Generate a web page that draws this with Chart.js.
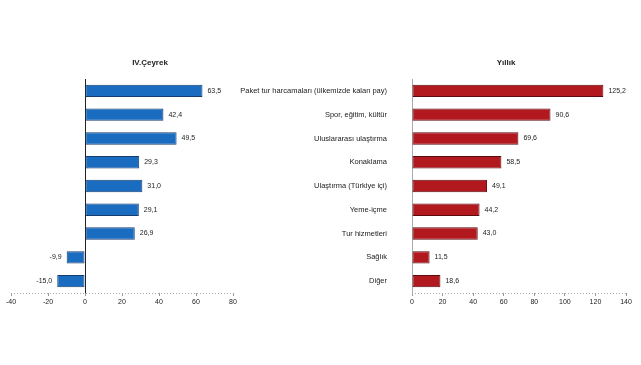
<!DOCTYPE html>
<html>
<head>
<meta charset="utf-8">
<script src="https://cdn.jsdelivr.net/npm/chart.js@4.4.1/dist/chart.umd.min.js"></script>
<style>
  html,body{margin:0;padding:0;background:#fff;width:641px;height:365px;overflow:hidden;font-family:"Liberation Sans",Arial,sans-serif}
  .box{position:absolute;top:0;height:365px}
  #leftBox{left:0;width:250px}
  #rightBox{left:240px;width:401px}
  .ttl{position:absolute;top:58px;font-size:8px;font-weight:bold;color:#222;transform:translateX(-50%);white-space:nowrap}
</style>
</head>
<body>
<div class="box" id="leftBox"><canvas id="cQ"></canvas></div>
<div class="box" id="rightBox"><canvas id="cY"></canvas></div>
<div class="ttl" style="left:150px">IV.Çeyrek</div>
<div class="ttl" style="left:506px">Yıllık</div>
<script>
const categories = [
  'Paket tur harcamaları (ülkemizde kalan pay)',
  'Spor, eğitim, kültür',
  'Uluslararası ulaştırma',
  'Konaklama',
  'Ulaştırma (Türkiye içi)',
  'Yeme-içme',
  'Tur hizmetleri',
  'Sağlık',
  'Diğer'
];
const quarterValues = [63.5, 42.4, 49.5, 29.3, 31.0, 29.1, 26.9, -9.9, -15.0];
const annualValues = [125.2, 90.6, 69.6, 58.5, 49.1, 44.2, 43.0, 11.5, 18.6];
const quarterRange = [-40, 80];
const annualRange = [0, 140];

const FONT = "'Liberation Sans', Arial, sans-serif";
const fmt = v => v.toFixed(1).replace('.', ',');

// value text at the end of each bar
const valueLabels = {
  id: 'valueLabels',
  afterDatasetsDraw(chart){
    const ctx = chart.ctx;
    const meta = chart.getDatasetMeta(0);
    const data = chart.data.datasets[0].data;
    ctx.save();
    ctx.font = '7px ' + FONT;
    ctx.fillStyle = '#222';
    ctx.textBaseline = 'middle';
    meta.data.forEach((bar, i) => {
      const v = data[i];
      if (v >= 0){ ctx.textAlign = 'left'; ctx.fillText(fmt(v), bar.x + 5, bar.y); }
      else { ctx.textAlign = 'right'; ctx.fillText(fmt(v), bar.x - 5, bar.y); }
    });
    ctx.restore();
  }
};

// dotted baseline along the value axis
const dottedBase = {
  id: 'dottedBase',
  beforeDatasetsDraw(chart){
    const {ctx, chartArea:a} = chart;
    ctx.save();
    ctx.strokeStyle = '#aaa';
    ctx.lineWidth = 1;
    ctx.setLineDash([1, 2]);
    ctx.beginPath();
    ctx.moveTo(a.left, Math.round(a.bottom) + 0.5);
    ctx.lineTo(a.right, Math.round(a.bottom) + 0.5);
    ctx.stroke();
    ctx.restore();
  }
};

function makeChart(el, values, range, opts){
  return new Chart(el, {
    type: 'bar',
    data: { labels: categories, datasets: [{
      data: values,
      backgroundColor: opts.fill,
      borderColor: opts.stroke,
      borderWidth: 1,
      borderSkipped: false,
      categoryPercentage: 0.52,
      barPercentage: 1
    }]},
    options: {
      indexAxis: 'y',
      responsive: true,
      maintainAspectRatio: false,
      animation: false,
      layout: { padding: { left: opts.padLeft, right: opts.padRight, top: 79, bottom: 0 } },
      plugins: { legend: { display: false }, tooltip: { enabled: false } },
      scales: {
        x: {
          min: range[0], max: range[1],
          ticks: { stepSize: 20, font: { size: 7, family: FONT }, color: '#222', padding: 2, maxRotation: 0 },
          grid: {
            color: c => (opts.zeroLine && c.tick && c.tick.value === 0) ? '#222' : 'rgba(0,0,0,0)',
            tickColor: '#999', tickLength: 3, lineWidth: 1
          },
          border: { display: false },
          afterFit: s => { s.height = 72; }
        },
        y: {
          display: opts.showCats,
          ticks: { font: { size: 7.5, family: FONT }, color: '#222', padding: 25 },
          grid: { color: 'rgba(0,0,0,0)', drawTicks: false },
          border: { color: '#aaa' },
          afterFit: s => { if (opts.showCats) s.width = 172; }
        }
      }
    },
    plugins: [dottedBase, valueLabels]
  });
}

makeChart(document.getElementById('cQ'), quarterValues, quarterRange,
  { fill: '#1a6cc0', stroke: '#163d6e', padLeft: 11, padRight: 17, zeroLine: true, showCats: false });
makeChart(document.getElementById('cY'), annualValues, annualRange,
  { fill: '#b2191f', stroke: '#5a0c10', padLeft: 0, padRight: 15, zeroLine: false, showCats: true });
</script>
</body>
</html>
